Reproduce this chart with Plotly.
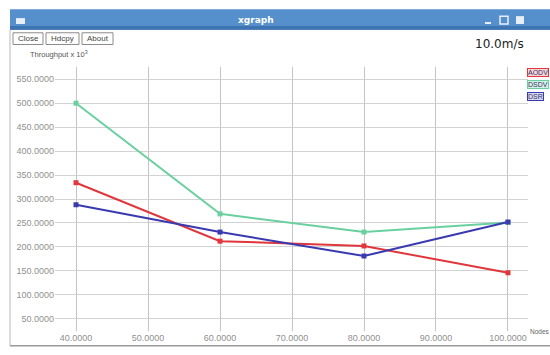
import plotly.graph_objects as go

# Throughput vs number of nodes at 10.0 m/s
nodes = [40, 60, 80, 100]
aodv = [334, 212, 202, 146]
dsdv = [500, 269, 231, 251]
dsr = [288, 231, 181, 252]

series_names = ["AODV", "DSDV", "DSR"]
series_values = [aodv, dsdv, dsr]
series_colors = ["#e0363c", "#6ad0a0", "#3a3ab0"]
series_tints = ["#f7d6d8", "#d6f2e6", "#d8d8f2"]

x_ticks = [40, 50, 60, 70, 80, 90, 100]
y_ticks = [50, 100, 150, 200, 250, 300, 350, 400, 450, 500, 550]

W, H = 550, 355
L, R, T, B = 55, 22, 67, 18
PW, PH = W - L - R, H - T - B


def px(x):
    return (x - L) / PW


def py(y):
    return 1 - (y - T) / PH


fig = go.Figure()
for name, vals, col in zip(series_names, series_values, series_colors):
    fig.add_trace(go.Scatter(
        x=nodes, y=vals, name=name, mode="lines+markers",
        line=dict(color=col, width=2),
        marker=dict(color=col, size=5, symbol="square"),
        showlegend=False,
    ))

tick_font = dict(family="Liberation Sans, Arial, sans-serif", size=9, color="#909090")

fig.update_xaxes(
    range=[37.08, 102.78], tickvals=x_ticks, tickformat=".4f",
    showgrid=True, gridcolor="#c4c4c4", gridwidth=1, zeroline=False,
    showline=False, tickfont=tick_font, ticks="",
)
fig.update_yaxes(
    range=[24.5, 575.5], tickvals=y_ticks, tickformat=".4f",
    showgrid=True, gridcolor="#d2d2d2", gridwidth=1, zeroline=False,
    showline=False, tickfont=tick_font, ticks="",
)

shapes = []
# window title bar
shapes.append(dict(type="rect", xref="paper", yref="paper",
                   x0=px(10), x1=px(551), y0=py(29), y1=py(8),
                   fillcolor="#5590cc", line=dict(width=0), layer="above"))
shapes.append(dict(type="rect", xref="paper", yref="paper",
                   x0=px(10), x1=px(551), y0=py(29), y1=py(25),
                   fillcolor="#3f74b2", line=dict(width=0), layer="above"))
# title bar icons
shapes.append(dict(type="rect", xref="paper", yref="paper",
                   x0=px(16), x1=px(25), y0=py(23), y1=py(17),
                   fillcolor="#e8eef8", line=dict(width=0), layer="above"))
shapes.append(dict(type="rect", xref="paper", yref="paper",
                   x0=px(485), x1=px(491), y0=py(23), y1=py(21),
                   fillcolor="#e8eef8", line=dict(width=0), layer="above"))
shapes.append(dict(type="rect", xref="paper", yref="paper",
                   x0=px(500), x1=px(508), y0=py(23), y1=py(15),
                   line=dict(color="#e8eef8", width=1.5), layer="above"))
shapes.append(dict(type="rect", xref="paper", yref="paper",
                   x0=px(516), x1=px(524), y0=py(23), y1=py(15),
                   fillcolor="#e8eef8", line=dict(width=0), layer="above"))
# window frame
shapes.append(dict(type="line", xref="paper", yref="paper",
                   x0=px(10), x1=px(10), y0=py(352), y1=py(29),
                   line=dict(color="#b8b8b8", width=1), layer="above"))
shapes.append(dict(type="line", xref="paper", yref="paper",
                   x0=px(10), x1=px(551), y0=py(352), y1=py(352),
                   line=dict(color="#9a9a9a", width=1.5), layer="above"))
# buttons
for x0, x1 in [(13, 43), (46, 79), (82, 113)]:
    shapes.append(dict(type="rect", xref="paper", yref="paper",
                       x0=px(x0), x1=px(x1), y0=py(44), y1=py(32),
                       fillcolor="#ffffff", line=dict(color="#8c8c8c", width=1),
                       layer="above"))

annotations = []
annotations.append(dict(text="<b>xgraph</b>", xref="paper", yref="paper",
                        x=px(256), y=py(18.5), showarrow=False,
                        xanchor="center", yanchor="middle",
                        font=dict(family="DejaVu Sans", size=9, color="#ffffff")))
for label, cx in [("Close", 28), ("Hdcpy", 62.5), ("About", 97.5)]:
    annotations.append(dict(text=label, xref="paper", yref="paper",
                            x=px(cx), y=py(38), showarrow=False,
                            xanchor="center", yanchor="middle",
                            font=dict(family="Liberation Sans", size=8, color="#444444")))
annotations.append(dict(text="Throughput x 10<sup>3</sup>", xref="paper", yref="paper",
                        x=px(28), y=py(54), showarrow=False,
                        xanchor="left", yanchor="middle",
                        font=dict(family="Liberation Sans", size=7.5, color="#555555")))
annotations.append(dict(text="10.0m/s", xref="paper", yref="paper",
                        x=px(526), y=py(43), showarrow=False,
                        xanchor="right", yanchor="middle",
                        font=dict(family="DejaVu Sans", size=12, color="#222222")))
annotations.append(dict(text="Nodes", xref="paper", yref="paper",
                        x=px(528), y=py(338), showarrow=False,
                        xanchor="left", yanchor="middle",
                        font=dict(family="Liberation Sans", size=6.5, color="#666666")))
for i, (name, col, tint) in enumerate(zip(series_names, series_colors, series_tints)):
    annotations.append(dict(text=name, xref="paper", yref="paper",
                            x=px(527), y=py(73 + 12 * i), showarrow=False,
                            xanchor="left", yanchor="middle",
                            bgcolor=tint, bordercolor=col, borderwidth=1, borderpad=0,
                            font=dict(family="Liberation Sans", size=7, color="#333366")))

fig.update_layout(
    width=W, height=H,
    margin=dict(l=L, r=R, t=T, b=B, pad=0),
    paper_bgcolor="#ffffff", plot_bgcolor="#ffffff",
    shapes=shapes, annotations=annotations,
    showlegend=False,
)

fig.write_html("out.html")
